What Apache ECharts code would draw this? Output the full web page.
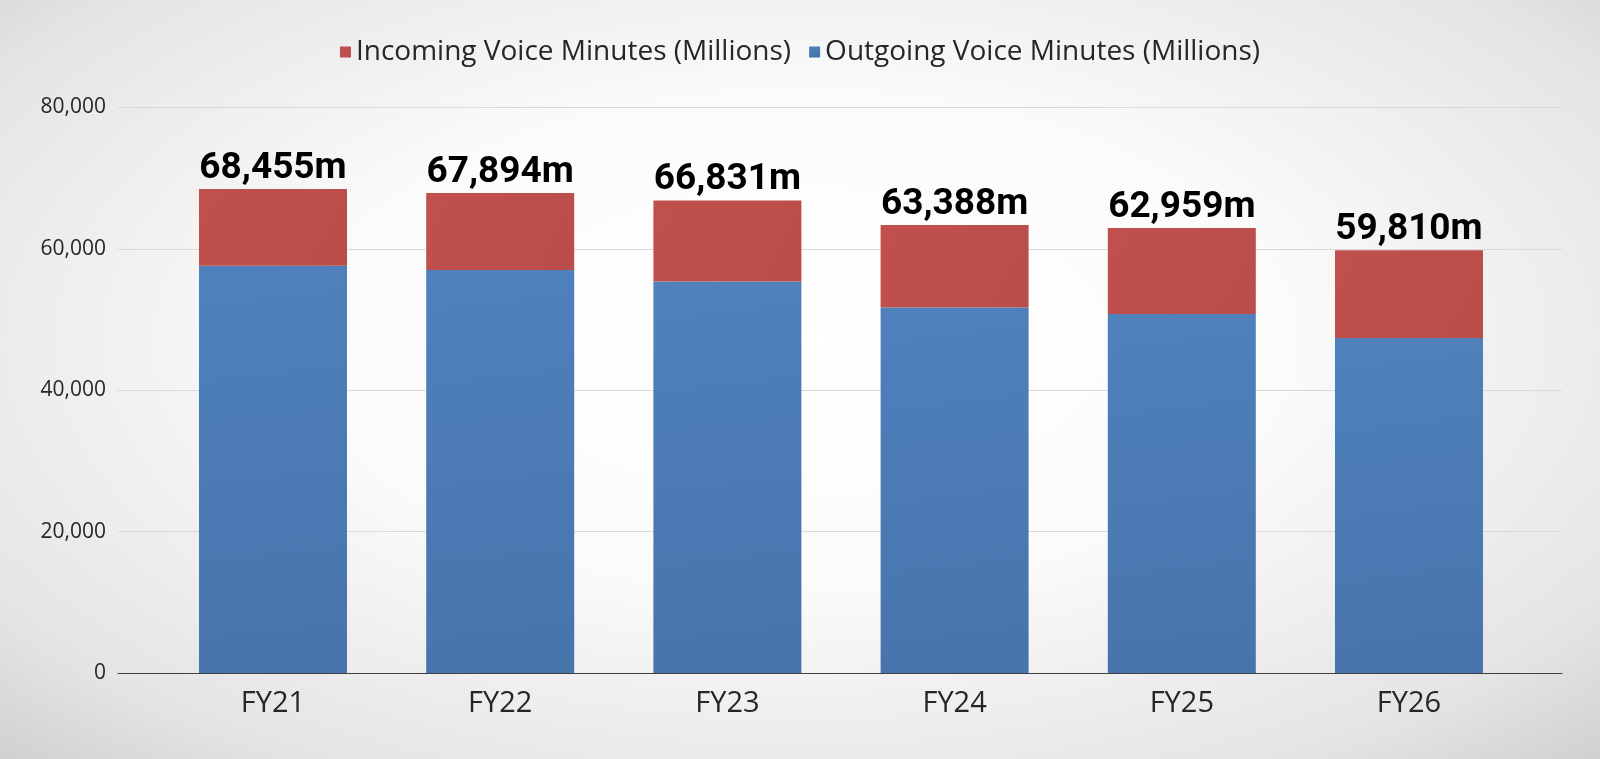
<!DOCTYPE html>
<html>
<head>
<meta charset="utf-8">
<script src="https://cdn.jsdelivr.net/npm/echarts@6/dist/echarts.min.js"></script>
<style>
html,body{margin:0;padding:0;width:1600px;height:759px;overflow:hidden;}
#chart{width:1600px;height:759px;background:radial-gradient(ellipse 75% 80% at 50% 45%, #ffffff 0%, #fbfbfb 40%, #e4e4e4 80%, #cbcbcb 100%);}
</style>
</head>
<body>
<div id="chart"></div>
<script>
const categories = ['FY21','FY22','FY23','FY24','FY25','FY26'];
const outgoing = [57600, 57000, 55400, 51700, 50800, 47400];
const incoming = [10855, 10894, 11431, 11688, 12159, 12410];
const totals = [68455, 67894, 66831, 63388, 62959, 59810];
const yTicks = [0, 20000, 40000, 60000, 80000];

const chart = echarts.init(document.getElementById('chart'));
const gridTop = 107.5, gridBottom = 86;
chart.setOption({
  backgroundColor: 'transparent',
  animation: false,
  legend: {
    data: ['Incoming Voice Minutes (Millions)', 'Outgoing Voice Minutes (Millions)'],
    top: 33,
    left: 'center',
    itemWidth: 11,
    itemHeight: 11,
    itemGap: 18,
    icon: 'rect',
    textStyle: {fontFamily: 'Open Sans', fontSize: 28, color: '#262626'}
  },
  grid: [
    {left: 118, right: 38, top: gridTop, bottom: gridBottom},
    {left: 159.4, right: 77.4, top: gridTop, bottom: gridBottom}
  ],
  xAxis: [
    {gridIndex: 0, type: 'value', min: 0, max: 1, axisLine: {show: true, onZero: false, lineStyle: {color: '#404040', width: 1}},
     axisTick: {show: false}, axisLabel: {show: false}, splitLine: {show: false}},
    {gridIndex: 1, type: 'category', data: categories, axisLine: {show: false}, axisTick: {show: false},
     axisLabel: {margin: 16, fontFamily: 'Open Sans', fontSize: 29, color: '#262626'}}
  ],
  yAxis: [
    {gridIndex: 0, type: 'value', min: yTicks[0], max: yTicks[yTicks.length-1], interval: 20000,
     axisLine: {show: false}, axisTick: {show: false},
     axisLabel: {margin: 12, fontFamily: 'Open Sans', fontSize: 21, color: '#262626',
       formatter: v => v.toLocaleString('en-US')},
     splitLine: {lineStyle: {color: '#d9d9d9', width: 1}}},
    {gridIndex: 1, type: 'value', min: 0, max: 80000, show: false, splitLine: {show: false}}
  ],
  series: [
    {name: 'Outgoing Voice Minutes (Millions)', type: 'bar', stack: 'v', xAxisIndex: 1, yAxisIndex: 1,
     data: outgoing, barWidth: 148,
     itemStyle: {color: {type: 'linear', x: 0, y: 0, x2: 0.3, y2: 1, colorStops: [
       {offset: 0, color: '#4F81BD'}, {offset: 1, color: '#4874AC'}]}}},
    {name: 'Incoming Voice Minutes (Millions)', type: 'bar', stack: 'v', xAxisIndex: 1, yAxisIndex: 1,
     data: incoming, barWidth: 148,
     itemStyle: {color: {type: 'linear', x: 0, y: 0, x2: 1, y2: 1, colorStops: [
       {offset: 0, color: '#C0504D'}, {offset: 1, color: '#BA4D4A'}]}},
     label: {show: true, position: 'top', distance: 2,
       formatter: p => totals[p.dataIndex].toLocaleString('en-US') + 'm',
       fontFamily: 'Roboto', fontWeight: 'bold', fontSize: 37, color: '#000000'}}
  ]
});
</script>
</body>
</html>
